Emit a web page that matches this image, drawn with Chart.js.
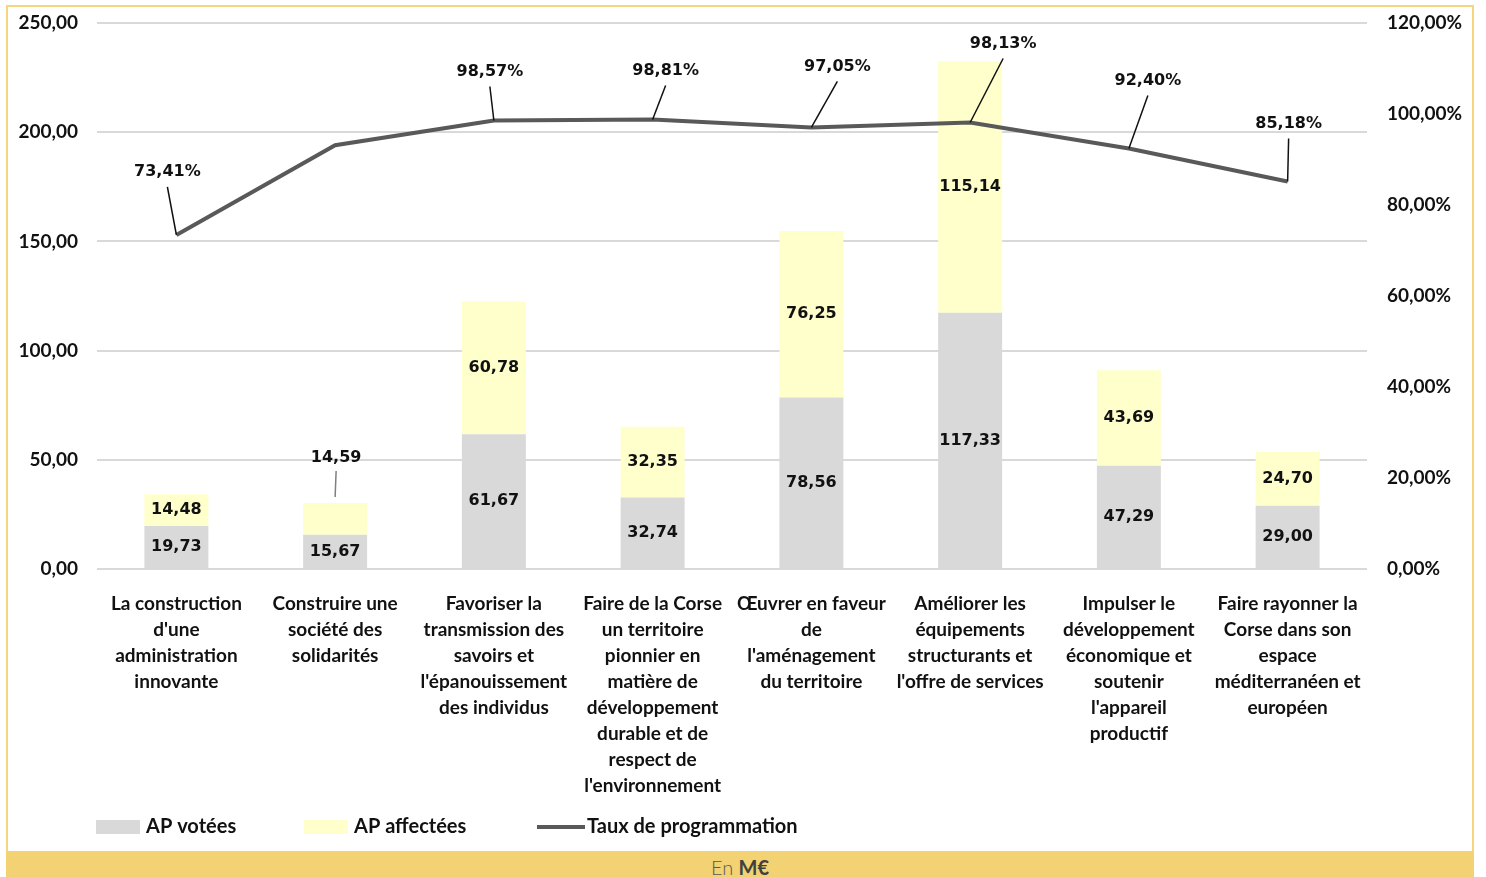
<!DOCTYPE html>
<html>
<head>
<meta charset="utf-8">
<style>
body{margin:0;background:#fff;font-family:Lato, sans-serif;}
#frame{position:absolute;left:6px;top:5px;width:1464px;height:846px;border:2px solid #F5D67C;border-bottom:none;}
#band{position:absolute;left:6px;top:851px;width:1468px;height:26px;background:#F2D273;text-align:center;font-size:20px;line-height:32px;color:#595959;}
#band b{color:#404040;}
#wrap{position:absolute;left:8px;top:7px;width:1464px;height:844px;}
</style>
<title>AP votées / affectées</title>
<script src="https://cdn.jsdelivr.net/npm/chart.js@4/dist/chart.umd.min.js"></script>
</head>
<body>
<div id="frame"></div>
<div id="wrap"><canvas id="chart"></canvas></div>
<div id="band"><span style="font-weight:300">En </span><b>M€</b></div>
<script>
// categories, one array of lines per axis label
var categories = [
	['La construction', "d'une", 'administration', 'innovante'],
	['Construire une', 'société des', 'solidarités'],
	['Favoriser la', 'transmission des', 'savoirs et', "l'épanouissement", 'des individus'],
	['Faire de la Corse', 'un territoire', 'pionnier en', 'matière de', 'développement', 'durable et de', 'respect de', "l'environnement"],
	['Œuvrer en faveur', 'de', "l'aménagement", 'du territoire'],
	['Améliorer les', 'équipements', 'structurants et', "l'offre de services"],
	['Impulser le', 'développement', 'économique et', 'soutenir', "l'appareil", 'productif'],
	['Faire rayonner la', 'Corse dans son', 'espace', 'méditerranéen et', 'européen']
];
var apVotees = [19.73, 15.67, 61.67, 32.74, 78.56, 117.33, 47.29, 29.00];
var apAffectees = [14.48, 14.59, 60.78, 32.35, 76.25, 115.14, 43.69, 24.70];
var tauxProgrammation = [73.41, 93.15, 98.57, 98.81, 97.05, 98.13, 92.40, 85.18];
var tauxShown = [true, false, true, true, true, true, true, true];

var yTicks = [0, 50, 100, 150, 200, 250];
var y1Ticks = [0, 20, 40, 60, 80, 100, 120];

function fr(v) { return v.toFixed(2).replace('.', ','); }

var labelFont = 'bold 16px "DejaVu Sans"';

var valueLabels = {
	id: 'valueLabels',
	afterDatasetsDraw: function (chart, args, opts) {
		var ctx = chart.ctx;
		ctx.save();
		ctx.font = labelFont;
		ctx.fillStyle = '#111';
		ctx.textAlign = 'center';
		ctx.textBaseline = 'middle';
		[0, 1].forEach(function (d) {
			var meta = chart.getDatasetMeta(d);
			meta.data.forEach(function (bar, i) {
				var v = chart.data.datasets[d].data[i];
				var lift = opts.barLift[d] && opts.barLift[d][i];
				if (lift) {
					var ly = bar.y - lift;
					ctx.fillText(fr(v), bar.x + 1, ly);
					ctx.strokeStyle = '#7f7f7f';
					ctx.lineWidth = 1.5;
					ctx.beginPath();
					ctx.moveTo(bar.x + 1, ly + 13);
					ctx.lineTo(bar.x, bar.y - 6);
					ctx.stroke();
				} else {
					ctx.fillText(fr(v), bar.x, (bar.y + bar.base) / 2);
				}
			});
		});
		var lmeta = chart.getDatasetMeta(2);
		ctx.strokeStyle = '#111';
		ctx.lineWidth = 1.5;
		lmeta.data.forEach(function (pt, i) {
			if (!tauxShown[i]) return;
			var off = opts.lineOffsets[i];
			var lx = pt.x + off[0], ly = pt.y + off[1];
			ctx.fillText(fr(tauxProgrammation[i]) + '%', lx, ly);
			ctx.beginPath();
			ctx.moveTo(pt.x, pt.y);
			ctx.lineTo(lx, ly + 15);
			ctx.stroke();
		});
		ctx.restore();
	}
};

var customLegend = {
	id: 'customLegend',
	afterDraw: function (chart, args, opts) {
		var ctx = chart.ctx;
		var ds = chart.data.datasets;
		var y = opts.y;
		ctx.save();
		ctx.font = 'bold 20px Lato';
		ctx.textBaseline = 'middle';
		ds.forEach(function (d, i) {
			var x = opts.x[i];
			if (d.type === 'line') {
				ctx.strokeStyle = d.borderColor;
				ctx.lineWidth = 4;
				ctx.beginPath();
				ctx.moveTo(x, y);
				ctx.lineTo(x + 48, y);
				ctx.stroke();
				ctx.fillStyle = '#111';
				ctx.fillText(d.label, x + 50, y);
			} else {
				ctx.fillStyle = d.backgroundColor;
				ctx.fillRect(x, y - 7, 44, 14);
				ctx.fillStyle = '#111';
				ctx.fillText(d.label, x + 50, y);
			}
		});
		ctx.restore();
	}
};

var ctx = document.getElementById('chart').getContext('2d');
var chart = new Chart(ctx, {
	type: 'bar',
	data: {
		labels: categories,
		datasets: [
			{
				label: 'AP votées',
				data: apVotees,
				backgroundColor: '#D9D9D9',
				stack: 's',
				order: 2,
				barPercentage: 0.403,
				categoryPercentage: 1
			},
			{
				label: 'AP affectées',
				data: apAffectees,
				backgroundColor: '#FFFFCC',
				stack: 's',
				order: 2,
				barPercentage: 0.403,
				categoryPercentage: 1
			},
			{
				type: 'line',
				label: 'Taux de programmation',
				data: tauxProgrammation,
				yAxisID: 'y1',
				borderColor: '#595959',
				borderWidth: 4,
				pointRadius: 0,
				tension: 0,
				order: 1
			}
		]
	},
	options: {
		responsive: true,
		maintainAspectRatio: false,
		animation: false,
		layout: { padding: { top: 16, left: 0, right: 0, bottom: 0 } },
		plugins: {
			legend: { display: false },
			tooltip: { enabled: false },
			valueLabels: {
				barLift: { 1: { 1: 45 } },
				lineOffsets: [[-9, -63], [0, -50], [-4, -49], [13, -49], [26, -61], [33, -79], [19, -68], [1, -58]]
			},
			customLegend: { y: 820, x: [88, 296, 529] }
		},
		scales: {
			x: {
				stacked: true,
				grid: { display: false },
				border: { display: false },
				ticks: {
					autoSkip: false,
					maxRotation: 0,
					padding: 14,
					color: '#111',
					font: { family: 'Lato', weight: 'bold', size: 19, lineHeight: 1.37 }
				},
				afterFit: function (s) { s.height = 282; }
			},
			y: {
				stacked: true,
				min: 0,
				max: 250,
				afterBuildTicks: function (s) { s.ticks = yTicks.map(function (v) { return { value: v }; }); },
				grid: { color: '#D9D9D9', lineWidth: 2, drawTicks: false },
				border: { display: false },
				ticks: {
					padding: 19,
					color: '#111',
					font: { family: 'Lato', weight: 'bold', size: 19 },
					callback: function (v) { return fr(v); }
				},
				afterFit: function (s) { s.width = 89; s.paddingTop = 0; s.paddingBottom = 0; }
			},
			y1: {
				position: 'right',
				min: 0,
				max: 120,
				afterBuildTicks: function (s) { s.ticks = y1Ticks.map(function (v) { return { value: v }; }); },
				grid: { display: false },
				border: { display: false },
				ticks: {
					padding: 12,
					color: '#111',
					font: { family: 'Lato', weight: 'bold', size: 19 },
					callback: function (v) { return fr(v) + '%'; }
				},
				afterFit: function (s) { s.width = 105; s.paddingTop = 0; s.paddingBottom = 0; }
			}
		}
	},
	plugins: [valueLabels, customLegend]
});
</script>
</body>
</html>
